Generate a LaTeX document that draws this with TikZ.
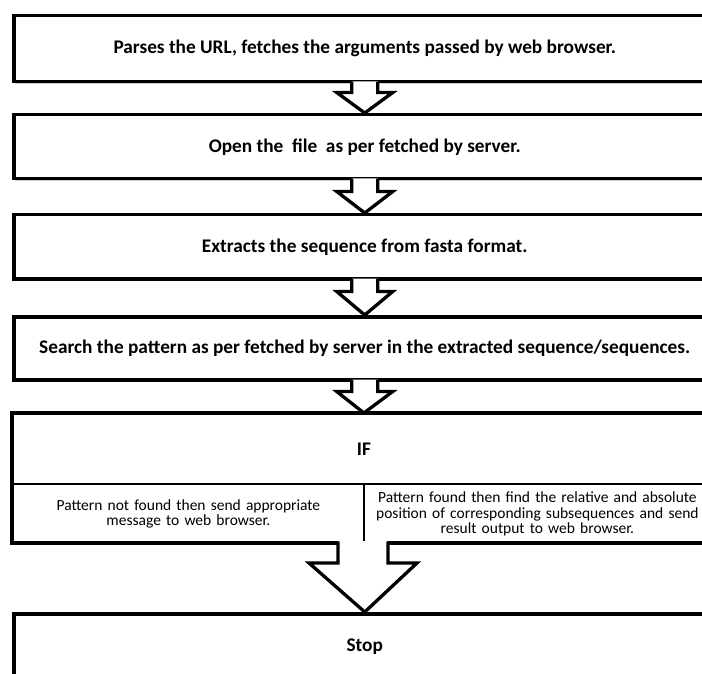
\documentclass[tikz,border=0pt]{standalone}
\usepackage{fontspec}
\setmainfont{Carlito}
\usetikzlibrary{calc,shadows}

\tikzset{
  boxshadow/.style={drop shadow={shadow xshift=1.5pt, shadow yshift=-2pt, opacity=0.3, fill=black!60}},
  stepbox/.style={draw, line width=3.5pt, fill=white, boxshadow, anchor=north west,
    minimum width=702pt, inner sep=0pt, font=\bfseries\fontsize{19.3}{22}\selectfont},
  subcell/.style={draw, line width=1.8pt, anchor=north west, minimum width=351pt,
    minimum height=60pt, inner sep=0pt, text width=350pt, align=center,
    font=\fontsize{15.5}{15.2}\selectfont},
  ifcell/.style={draw, line width=1.8pt, anchor=north west, minimum width=702pt,
    minimum height=70pt, inner sep=0pt, font=\bfseries\fontsize{19.3}{22}\selectfont},
  arrowline/.style={draw=black, line width=3.3pt, line join=miter, miter limit=10},
  pointnode/.style={inner sep=0pt, outer sep=0pt, minimum size=0pt},
}

\newcommand{\flowarrow}[5]{%
  \fill[white] let \p1=(#1.south), \p2=(#2.north) in
    (\x1-#3pt,\y1+2pt) -- (\x1-#3pt,\y1-#5pt) -- (\x1-#4pt,\y1-#5pt) -- (\x2,\y2)
    -- (\x1+#4pt,\y1-#5pt) -- (\x1+#3pt,\y1-#5pt) -- (\x1+#3pt,\y1+2pt) -- cycle;
  \draw[arrowline] let \p1=(#1.south), \p2=(#2.north) in
    (\x1-#3pt,\y1+1.75pt) -- (\x1-#3pt,\y1-#5pt) -- (\x1-#4pt,\y1-#5pt) -- (\x2,\y2)
    -- (\x1+#4pt,\y1-#5pt) -- (\x1+#3pt,\y1-#5pt) -- (\x1+#3pt,\y1+1.75pt);
}

\begin{document}
\begin{tikzpicture}[x=1pt,y=-1pt]
\useasboundingbox (0,0) rectangle (702,674);
\clip (0,0) rectangle (702,674);
\fill[white] (0,0) rectangle (702,674);

\node[stepbox, minimum height=66pt] (b1) at (12,14)
  {Parses the URL, fetches the arguments passed by web browser.};
\node[stepbox, minimum height=64pt] (b2) at (12,113)
  {Open the\ \ file\ \ as per fetched by server.};
\node[stepbox, minimum height=64pt] (b3) at (12,213)
  {Extracts the sequence from fasta format.};
\node[stepbox, minimum height=63pt] (b4) at (12,315)
  {Search the pattern as per fetched by server in the extracted sequence/sequences.};

% IF block
\path[fill=white, boxshadow] (12,413) rectangle (714,543);
\node[ifcell] (ifbox) at (12,413) {IF};
\node[subcell] (notfound) at (12,483)
  {Pattern not found then send appropriate\\message to web browser.};
\node[subcell, draw=none] (found) at (361,483)
  {Pattern found then find the relative and absolute\\position of corresponding subsequences and send\\result output to web browser.};
\draw[line width=3.5pt] (ifbox.north west) rectangle (714,543);
\node[pointnode] (ifbottom) at (363,543) {};

\node[stepbox, minimum height=66pt] (stop) at (12,612) {Stop};

\flowarrow{b1}{b2}{13}{28}{9}
\flowarrow{b2}{b3}{13}{28}{11}
\flowarrow{b3}{b4}{13}{28}{11}
\flowarrow{b4}{ifbox}{13}{28}{10}
\flowarrow{ifbottom}{stop}{25}{54}{20}
\end{tikzpicture}
\end{document}
